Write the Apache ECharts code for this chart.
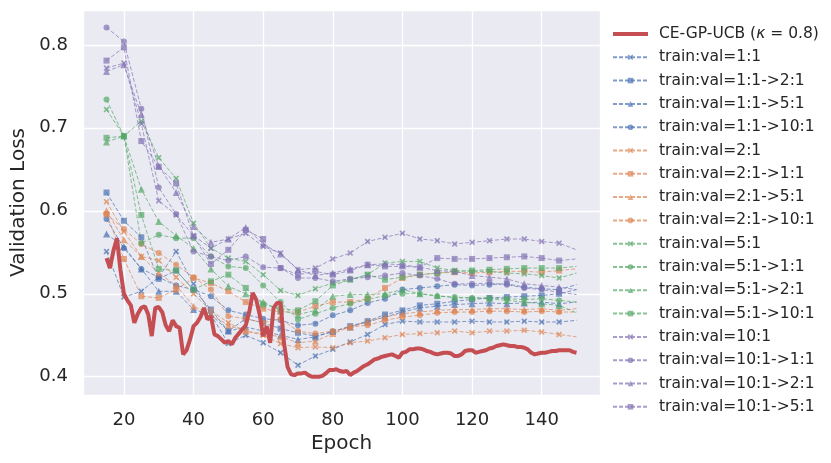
<!DOCTYPE html>
<html lang="en">
<head>
<meta charset="UTF-8">
<title>Validation Loss</title>
<script src="https://cdn.jsdelivr.net/npm/echarts@6.0.0/dist/echarts.min.js"></script>
<style>
html, body { margin: 0; padding: 0; background: #fff; }
#chart { width: 831px; height: 463px; }
</style>
</head>
<body>
<div id="chart"></div>
<script>
// epochs where the dashed runs are logged
var epochs = [15, 20, 25, 30, 35, 40, 45, 50, 55, 60, 65, 70, 75, 80, 85, 90, 95, 100, 105, 110, 115, 120, 125, 130, 135, 140, 145, 150];

// CE-GP-UCB, one value per epoch from 15 to 150
var ucb = [0.543, 0.531, 0.552, 0.567, 0.529, 0.500, 0.492, 0.486, 0.465, 0.476,
	0.483, 0.485, 0.475, 0.449, 0.483, 0.484, 0.478, 0.462, 0.455, 0.468,
	0.461, 0.459, 0.427, 0.432, 0.445, 0.461, 0.465, 0.472, 0.483, 0.469,
	0.473, 0.451, 0.449, 0.445, 0.441, 0.443, 0.439, 0.447, 0.452, 0.457,
	0.462, 0.478, 0.501, 0.493, 0.475, 0.449, 0.461, 0.441, 0.483, 0.489,
	0.489, 0.440, 0.412, 0.403, 0.402, 0.404, 0.404, 0.405, 0.402, 0.400,
	0.400, 0.400, 0.401, 0.404, 0.408, 0.408, 0.409, 0.407, 0.406, 0.407,
	0.402, 0.405, 0.407, 0.410, 0.413, 0.415, 0.418, 0.421, 0.422, 0.424,
	0.425, 0.426, 0.427, 0.425, 0.423, 0.429, 0.430, 0.433, 0.433, 0.434,
	0.434, 0.433, 0.431, 0.430, 0.428, 0.427, 0.428, 0.429, 0.429, 0.428,
	0.425, 0.425, 0.427, 0.431, 0.432, 0.432, 0.429, 0.430, 0.431, 0.432,
	0.434, 0.435, 0.437, 0.438, 0.439, 0.438, 0.437, 0.437, 0.436, 0.436,
	0.435, 0.433, 0.429, 0.427, 0.428, 0.429, 0.429, 0.430, 0.431, 0.431,
	0.432, 0.432, 0.432, 0.432, 0.430, 0.429];

var r11   = [0.551, 0.496, 0.503, 0.520, 0.551, 0.512, 0.475, 0.440, 0.450, 0.441, 0.429, 0.414, 0.425, 0.433, 0.442, 0.451, 0.463, 0.467, 0.466, 0.466, 0.466, 0.467, 0.466, 0.466, 0.467, 0.466, 0.466, 0.468];
var r112  = [0.622, 0.588, 0.568, 0.518, 0.528, 0.505, 0.481, 0.455, 0.470, 0.465, 0.458, 0.453, 0.449, 0.454, 0.461, 0.467, 0.475, 0.480, 0.486, 0.488, 0.491, 0.493, 0.495, 0.496, 0.497, 0.498, 0.500, 0.505];
var r115  = [0.572, 0.557, 0.530, 0.503, 0.503, 0.481, 0.475, 0.455, 0.460, 0.455, 0.450, 0.445, 0.448, 0.455, 0.460, 0.466, 0.472, 0.478, 0.483, 0.485, 0.487, 0.488, 0.489, 0.488, 0.489, 0.490, 0.488, 0.490];
var r1110 = [0.590, 0.555, 0.530, 0.520, 0.510, 0.505, 0.497, 0.480, 0.475, 0.470, 0.468, 0.462, 0.464, 0.474, 0.480, 0.489, 0.494, 0.505, 0.507, 0.509, 0.511, 0.510, 0.511, 0.512, 0.508, 0.506, 0.505, 0.511];
var r21   = [0.611, 0.575, 0.545, 0.540, 0.520, 0.500, 0.480, 0.465, 0.455, 0.450, 0.440, 0.435, 0.436, 0.435, 0.441, 0.443, 0.447, 0.451, 0.452, 0.453, 0.455, 0.453, 0.455, 0.455, 0.456, 0.454, 0.451, 0.448];
var r211  = [0.596, 0.542, 0.497, 0.495, 0.505, 0.519, 0.513, 0.503, 0.490, 0.482, 0.478, 0.478, 0.485, 0.490, 0.490, 0.494, 0.507, 0.519, 0.523, 0.525, 0.526, 0.525, 0.526, 0.527, 0.527, 0.526, 0.528, 0.530];
var r215  = [0.600, 0.565, 0.545, 0.525, 0.510, 0.485, 0.475, 0.462, 0.455, 0.452, 0.448, 0.441, 0.443, 0.452, 0.460, 0.467, 0.472, 0.476, 0.478, 0.480, 0.481, 0.481, 0.482, 0.482, 0.481, 0.482, 0.480, 0.482];
var r2110 = [0.596, 0.578, 0.560, 0.549, 0.535, 0.520, 0.505, 0.473, 0.470, 0.465, 0.470, 0.455, 0.452, 0.455, 0.460, 0.462, 0.468, 0.472, 0.474, 0.477, 0.478, 0.478, 0.479, 0.479, 0.478, 0.479, 0.478, 0.478];
var r51   = [0.722, 0.690, 0.708, 0.664, 0.639, 0.585, 0.555, 0.543, 0.539, 0.523, 0.504, 0.498, 0.506, 0.513, 0.517, 0.523, 0.537, 0.539, 0.539, 0.531, 0.528, 0.527, 0.527, 0.525, 0.524, 0.522, 0.519, 0.525];
var r511  = [0.734, 0.690, 0.561, 0.571, 0.567, 0.567, 0.545, 0.533, 0.531, 0.510, 0.490, 0.469, 0.476, 0.483, 0.488, 0.493, 0.498, 0.500, 0.500, 0.497, 0.496, 0.495, 0.495, 0.494, 0.493, 0.494, 0.492, 0.490];
var r512  = [0.683, 0.690, 0.626, 0.587, 0.570, 0.555, 0.530, 0.509, 0.500, 0.490, 0.480, 0.475, 0.480, 0.497, 0.499, 0.499, 0.500, 0.505, 0.500, 0.498, 0.495, 0.495, 0.494, 0.492, 0.490, 0.488, 0.486, 0.477];
var r5110 = [0.688, 0.690, 0.595, 0.530, 0.528, 0.505, 0.515, 0.523, 0.507, 0.487, 0.482, 0.480, 0.491, 0.510, 0.517, 0.523, 0.517, 0.520, 0.523, 0.525, 0.527, 0.528, 0.529, 0.530, 0.531, 0.531, 0.531, 0.533];
var r101  = [0.772, 0.778, 0.705, 0.612, 0.595, 0.570, 0.555, 0.566, 0.573, 0.557, 0.549, 0.529, 0.531, 0.542, 0.549, 0.563, 0.568, 0.573, 0.566, 0.564, 0.560, 0.562, 0.564, 0.566, 0.566, 0.563, 0.561, 0.553];
var r1011 = [0.821, 0.804, 0.723, 0.628, 0.596, 0.551, 0.545, 0.540, 0.545, 0.532, 0.531, 0.519, 0.519, 0.515, 0.518, 0.520, 0.522, 0.525, 0.522, 0.518, 0.512, 0.512, 0.513, 0.511, 0.507, 0.505, 0.502, 0.499];
var r1012 = [0.768, 0.776, 0.716, 0.654, 0.622, 0.581, 0.562, 0.566, 0.580, 0.560, 0.548, 0.529, 0.522, 0.525, 0.530, 0.535, 0.536, 0.535, 0.532, 0.528, 0.527, 0.522, 0.520, 0.518, 0.512, 0.510, 0.508, 0.505];
var r1015 = [0.781, 0.797, 0.684, 0.653, 0.633, 0.569, 0.536, 0.553, 0.577, 0.566, 0.531, 0.523, 0.527, 0.523, 0.528, 0.535, 0.533, 0.533, 0.532, 0.543, 0.542, 0.542, 0.543, 0.544, 0.545, 0.543, 0.540, 0.542];

var names = ['train:val=1:1', 'train:val=1:1->2:1', 'train:val=1:1->5:1', 'train:val=1:1->10:1',
	'train:val=2:1', 'train:val=2:1->1:1', 'train:val=2:1->5:1', 'train:val=2:1->10:1',
	'train:val=5:1', 'train:val=5:1->1:1', 'train:val=5:1->2:1', 'train:val=5:1->10:1',
	'train:val=10:1', 'train:val=10:1->1:1', 'train:val=10:1->2:1', 'train:val=10:1->5:1'];
var runs = [r11, r112, r115, r1110, r21, r211, r215, r2110, r51, r511, r512, r5110, r101, r1011, r1012, r1015];

var ucbName = 'CE-GP-UCB (κ = 0.8)';
var colors = ['#4C72B0', '#DD8452', '#55A868', '#8172B3'];
var cross = 'path://M2,0 L5,3 L8,0 L10,2 L7,5 L10,8 L8,10 L5,7 L2,10 L0,8 L3,5 L0,2 Z';
var marks = [
	[cross, 'rect', 'triangle', 'circle'],
	[cross, 'rect', 'triangle', 'circle'],
	[cross, 'circle', 'triangle', 'rect'],
	[cross, 'circle', 'triangle', 'rect']
];
var font = 'DejaVu Sans';
var ink = '#262626';

var series = [];
var ucbData = [];
for (var i = 0; i < ucb.length; i++) {
	ucbData.push([15 + i, ucb[i]]);
}
series.push({
	name: ucbName,
	type: 'line',
	data: ucbData,
	symbol: 'none',
	z: 5,
	lineStyle: { color: '#C44E52', width: 4 },
	itemStyle: { color: '#C44E52' }
});

for (var k = 0; k < runs.length; k++) {
	var g = Math.floor(k / 4);
	var sym = marks[g][k % 4];
	var d = [];
	for (var j = 0; j < epochs.length; j++) {
		if (j == epochs.length - 1) {
			d.push({ value: [epochs[j], runs[k][j]], symbol: 'none' });
		} else {
			d.push([epochs[j], runs[k][j]]);
		}
	}
	series.push({
		name: names[k],
		type: 'line',
		data: d,
		symbol: sym,
		symbolSize: sym == 'triangle' ? 7 : 6,
		showSymbol: true,
		z: 2,
		lineStyle: { color: colors[g], width: 1, type: [4, 2], opacity: 0.7 },
		itemStyle: { color: colors[g], opacity: 0.7 }
	});
}

// legend entries: plain thick bar for CE-GP-UCB
var legendData = [{ name: ucbName, icon: 'path://M0,0 L36,0 L36,4 L0,4 Z' }].concat(names);

var myChart = echarts.init(document.getElementById('chart'), null, { renderer: 'canvas' });

var option = {
	animation: false,
	backgroundColor: '#fff',
	textStyle: { fontFamily: font },
	grid: {
		left: 83, top: 10, width: 517, height: 385,
		show: true, backgroundColor: '#EAEAF2', borderWidth: 0
	},
	legend: {
		orient: 'vertical',
		left: 607, top: 21,
		itemWidth: 35, itemHeight: 7, itemGap: 7.3,
		data: legendData,
		formatter: function(name) {
			if (name == ucbName) return 'CE-GP-UCB ({k|κ} = 0.8)';
			return name;
		},
		textStyle: {
			fontFamily: font, fontSize: 15.5, color: ink, lineHeight: 16,
			padding: [0, 0, 0, 6],
			rich: { k: { fontFamily: font, fontSize: 15.5, fontStyle: 'italic', color: ink } }
		}
	},
	xAxis: {
		type: 'value',
		min: 8.25, max: 156.75, splitNumber: 7,
		name: 'Epoch', nameLocation: 'middle', nameGap: 38,
		nameTextStyle: { fontFamily: font, fontSize: 20, color: ink },
		axisLine: { show: false }, axisTick: { show: false },
		axisLabel: { fontFamily: font, fontSize: 18, color: ink, margin: 16, showMinLabel: false, showMaxLabel: false },
		splitLine: { lineStyle: { color: '#fff', width: 1.3 } }
	},
	yAxis: {
		type: 'value',
		min: 0.378, max: 0.842, splitNumber: 5,
		name: 'Validation Loss', nameLocation: 'middle', nameGap: 53,
		nameTextStyle: { fontFamily: font, fontSize: 20, color: ink },
		axisLine: { show: false }, axisTick: { show: false },
		axisLabel: {
			fontFamily: font, fontSize: 18, color: ink, margin: 15,
			showMinLabel: false, showMaxLabel: false,
			formatter: function(v) { return v.toFixed(1); }
		},
		splitLine: { lineStyle: { color: '#fff', width: 1.3 } }
	},
	series: series
};

myChart.setOption(option);
</script>
</body>
</html>
